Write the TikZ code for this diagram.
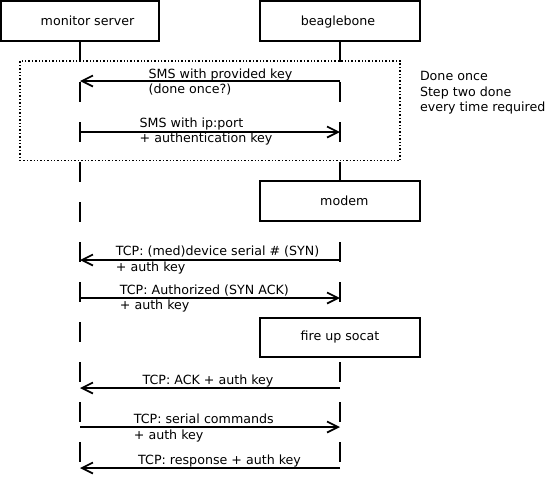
\documentclass[tikz,border=0pt]{standalone}
\usepackage{fontspec}
\setmainfont{DejaVu Sans}
\usetikzlibrary{arrows.meta}
\newcommand{\fsz}{\fontsize{12.65}{15.5}\selectfont}
\begin{document}
\begin{tikzpicture}[x=1pt,y=-1pt,
  actor/.style={draw, line width=2pt, minimum width=160pt, minimum height=40pt, inner sep=0pt, fill=white},
  boxtext/.style={inner sep=0pt, anchor=base, font=\fsz},
  life/.style={line width=1.9pt, dash pattern=on 20pt off 20pt},
  msg/.style={line width=1.8pt, -{Straight Barb[length=11pt,width=11pt,line width=1.7pt]}},
  lbl/.style={inner sep=0pt, anchor=base west, align=left, font=\fsz},
  framebox/.style={draw, dotted, line width=1.4pt, inner sep=0pt}]
\useasboundingbox (0,0) rectangle (547,482);
% lifeline ends
\coordinate (msend) at (80,476);
\coordinate (bbend) at (340,476);
% actors
\node[actor, minimum width=158pt] (ms) at (80,21) {};
\node[actor] (bb) at (340,21) {};
% lifelines
\draw[life] (ms.south) -- (msend);
\draw[life] (bb.south) -- (bbend);
% frame
\node[framebox, minimum width=380pt, minimum height=99.7pt] (frame) at (210,110.85) {};
% boxes on top
\node[actor, minimum width=158pt] (ms2) at (80,21) {};
\node[actor] (bb2) at (340,21) {};
\node[actor] (modem) at (340,201) {};
\node[actor, minimum height=39.6pt] (socat) at (340,337.5) {};
\node[boxtext] (mst) at (87.5,25) {monitor server};
\node[boxtext] (bbt) at (338,25) {beaglebone};
\node[boxtext] (modemt) at (344.3,205) {modem};
\node[boxtext] (socatt) at (340,340) {fire up socat};
% message levels
\coordinate (m1) at (0,81);
\coordinate (m2) at (0,132);
\coordinate (m3) at (0,260);
\coordinate (m4) at (0,298);
\coordinate (m5) at (0,388);
\coordinate (m6) at (0,427);
\coordinate (m7) at (0,468);
\draw[msg] (bb |- m1) -- (ms |- m1);
\draw[msg] (ms |- m2) -- (bb |- m2);
\draw[msg] (bb |- m3) -- (ms |- m3);
\draw[msg] (ms |- m4) -- (bb |- m4);
\draw[msg] (bb |- m5) -- (ms |- m5);
\draw[msg] (ms |- m6) -- (bb |- m6);
\draw[msg] (bb |- m7) -- (ms |- m7);
% labels (base anchor = baseline of last line)
\node[lbl] (l1) at (148.5,93.8) {SMS with provided key\\(done once?)};
\node[lbl] (l2) at (139.5,142.7) {SMS with ip:port\\+ authentication key};
\node[lbl] (l3) at (115.7,271) {TCP: (med)device serial \# (SYN)\\+ auth key};
\node[lbl] (l4) at (119.7,309.5) {TCP: Authorized (SYN ACK)\\+ auth key};
\node[lbl] (l5) at (142.4,384.3) {TCP: ACK + auth key};
\node[lbl] (l6) at (133.7,439) {TCP: serial commands\\+ auth key};
\node[lbl] (l7) at (138,464.3) {TCP: response + auth key};
\node[lbl] (note) at (419.8,111.8) {Done once\\Step two done\\every time required};
\end{tikzpicture}
\end{document}
